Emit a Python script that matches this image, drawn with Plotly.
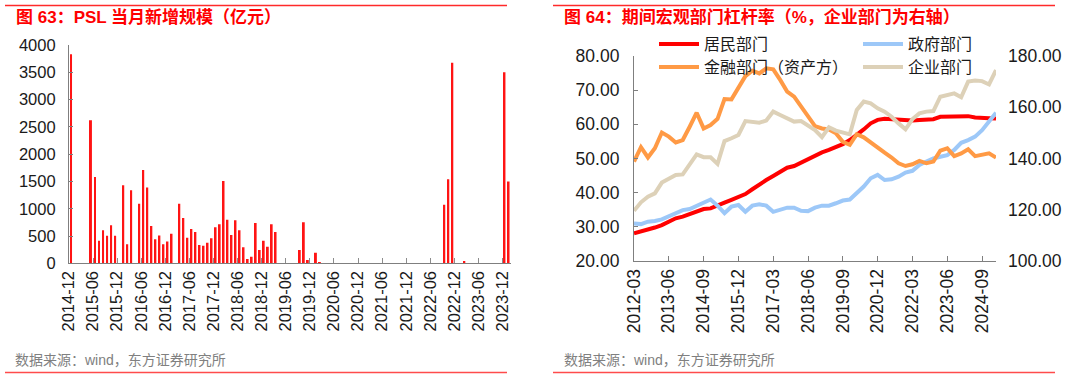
import pandas as pd
import plotly.graph_objects as go

# ---------------- Left panel data: PSL monthly new additions (100m CNY) ----------------
psl_months = pd.date_range("2014-12-01", "2024-01-01", freq="MS").strftime("%Y-%m").tolist()
psl_values = [
    3830, 0, 0, 0, 0, 2620, 1580, 415, 605, 507, 696, 507,        # 2014-12 .. 2015-11
    0, 1430, 350, 1340, 0, 1090, 1710, 1390, 685, 440, 510, 350,   # 2015-12 .. 2016-11
    400, 540, 0, 1090, 830, 470, 630, 575, 335, 320, 375, 460,     # 2016-12 .. 2017-11
    660, 715, 1510, 800, 520, 790, 605, 295, 80, 120, 740, 245,    # 2017-12 .. 2018-11
    415, 305, 715, 575, 0, 0, 0, 0, 0, 245, 750, 60,               # 2018-12 .. 2019-11
    0, 195, 20, 0, 0, 0, 0, 0, 0, 0, 0, 0,                         # 2019-12 .. 2020-11
    0, 0, 0, 0, 0, 0, 0, 0, 0, 0, 0, 0,                            # 2020-12 .. 2021-11
    0, 0, 0, 0, 0, 0, 0, 0, 0, 1075, 1540, 3675,                   # 2021-12 .. 2022-11
    0, 0, 40, 0, 0, 0, 0, 0, 0, 0, 0, 0,                           # 2022-12 .. 2023-11
    3500, 1500,                                                    # 2023-12 .. 2024-01
]
psl_yticks = [0, 500, 1000, 1500, 2000, 2500, 3000, 3500, 4000]

# ---------------- Right panel data: sector leverage ratios (%) ----------------
quarters = pd.period_range("2012Q1", "2025Q1", freq="Q").to_timestamp(how="end").strftime("%Y-%m").tolist()
household = [28.1, 28.6, 29.3, 29.8, 30.5, 31.5, 32.5, 33.0, 33.8, 34.7, 35.2, 35.4, 36.1,
             37.1, 37.9, 38.6, 39.6, 41.0, 42.5, 43.7, 44.9, 46.1, 47.3, 47.8, 48.8, 49.8,
             51.0, 51.8, 52.5, 53.3, 54.2, 55.4, 56.9, 58.5, 60.3, 61.3, 61.6, 61.5, 61.3,
             61.1, 61.1, 61.3, 61.3, 61.5, 62.2, 62.2, 62.2, 62.2, 62.4, 62.0, 62.0, 61.8, 61.7]
government = [31.0, 30.8, 31.5, 31.7, 32.2, 33.2, 34.1, 34.9, 35.2, 36.1, 37.1, 38.0, 36.2,
              34.0, 35.9, 36.4, 34.4, 36.2, 36.6, 36.2, 34.4, 34.9, 35.6, 35.6, 34.7, 34.6,
              35.6, 36.2, 36.2, 36.9, 37.7, 38.0, 39.8, 41.8, 44.2, 45.2, 43.7, 43.9, 44.7,
              45.9, 46.4, 48.1, 49.1, 50.0, 50.5, 51.0, 52.5, 54.6, 55.4, 56.4, 58.3, 60.8, 63.4]
financial = [49.1, 53.3, 50.3, 53.0, 57.6, 56.4, 54.7, 55.4, 59.3, 63.4, 58.8, 59.8, 61.6,
             67.4, 67.3, 70.5, 74.1, 75.7, 74.9, 76.4, 76.1, 73.0, 69.6, 68.1, 65.2, 62.4,
             59.5, 58.8, 58.5, 57.4, 54.9, 54.0, 57.1, 56.2, 54.6, 53.2, 51.7, 50.3, 48.6,
             47.8, 48.3, 49.3, 48.6, 49.1, 52.3, 53.0, 50.7, 51.5, 52.7, 50.7, 51.2, 51.5, 50.3]
corporate = [119.6, 122.9, 125.1, 126.4, 130.6, 132.3, 133.6, 133.8, 137.9, 141.6, 140.5, 140.5, 137.9,
             146.8, 147.9, 149.2, 154.6, 154.4, 154.0, 154.8, 158.3, 157.0, 155.7, 154.4, 154.6, 152.7,
             151.1, 148.3, 152.2, 150.9, 150.1, 149.4, 158.9, 162.2, 161.5, 159.6, 158.3, 156.3, 153.7,
             151.4, 155.4, 157.6, 158.3, 158.5, 164.1, 164.8, 165.4, 163.9, 170.0, 170.4, 170.2, 168.9, 174.5]
lev_xticks = quarters[::5]
left_yticks = [20, 30, 40, 50, 60, 70, 80]
right_yticks = [100, 120, 140, 160, 180]

# ---------------- layout helpers ----------------
W, H = 1080, 381
def px(x):
    return x / W
def py(y):
    return (H - y) / H

FONT = "Liberation Sans, Arial, Noto Sans CJK SC, sans-serif"
CJK = "Liberation Sans, Arial, Noto Sans CJK SC, sans-serif"
TICKFONT_L = dict(family=FONT, size=16.5, color="#1a1a1a")
TICKFONT_R = dict(family=FONT, size=17.5, color="#1a1a1a")
AXCOL = "#7f7f7f"

fig = go.Figure()

# Left bars
fig.add_trace(go.Bar(
    x=psl_months, y=psl_values, xperiod="M1", xperiodalignment="middle",
    marker=dict(color="#ff1414", line=dict(width=0)),
    xaxis="x", yaxis="y", showlegend=False,
))

# Right lines: left-axis series first, corporate (right axis) drawn on top
fig.add_trace(go.Scatter(x=quarters, y=household, mode="lines", name="居民部门",
                         line=dict(color="#ff0000", width=4), xaxis="x2", yaxis="y2",
                         legend="legend"))
fig.add_trace(go.Scatter(x=quarters, y=government, mode="lines", name="政府部门",
                         line=dict(color="#9dc8f8", width=4), xaxis="x2", yaxis="y2",
                         legend="legend2"))
fig.add_trace(go.Scatter(x=quarters, y=financial, mode="lines", name="金融部门（资产方）",
                         line=dict(color="#ff9a45", width=4), xaxis="x2", yaxis="y2",
                         legend="legend3"))
fig.add_trace(go.Scatter(x=quarters, y=corporate, mode="lines", name="企业部门",
                         line=dict(color="#ddd1b8", width=4), xaxis="x2", yaxis="y3",
                         legend="legend4"))

LEG_FONT = dict(family=CJK, size=16, color="#1a1a1a")
def leg(x, y):
    return dict(x=px(x), y=py(y), xanchor="left", yanchor="middle", font=LEG_FONT,
                bgcolor="rgba(0,0,0,0)", itemwidth=40, borderwidth=0)

fig.update_layout(
    width=W, height=H, margin=dict(l=0, r=0, t=0, b=0, pad=0, autoexpand=False),
    paper_bgcolor="white", plot_bgcolor="white",
    bargap=0.5,
    xaxis=dict(
        type="date", domain=[px(69), px(510.6)], anchor="y",
        range=["2014-12-01", "2024-02-01"],
        tick0="2014-12-01", dtick="M6", tickformat="%Y-%m", tickangle=-90,
        ticks="inside", ticklen=5, tickcolor="#8c8c8c", tickwidth=1.2,
        showline=True, linecolor=AXCOL, linewidth=1.2, showgrid=False, zeroline=False,
        tickfont=TICKFONT_L, automargin=False,
    ),
    yaxis=dict(
        domain=[py(263.3), py(45)], anchor="x", range=[0, 4000],
        tickvals=psl_yticks, ticks="inside", ticklen=4, tickcolor=AXCOL,
        showline=True, linecolor=AXCOL, linewidth=1.2, showgrid=False, zeroline=False,
        tickfont=TICKFONT_L, ticklabelstandoff=9, automargin=False,
    ),
    xaxis2=dict(
        type="category", domain=[px(634), px(996)], anchor="y2",
        range=[0, len(quarters) - 1], tickvals=lev_xticks, tickangle=-90,
        ticks="inside", ticklen=5, tickcolor=AXCOL,
        showline=True, linecolor=AXCOL, linewidth=1.2, showgrid=False, zeroline=False,
        tickfont=TICKFONT_R, automargin=False,
    ),
    yaxis2=dict(
        domain=[py(261), py(56)], anchor="x2", side="left", range=[20, 80],
        tickvals=left_yticks, tickformat=".2f", ticks="inside", ticklen=4, tickcolor=AXCOL,
        showline=True, linecolor=AXCOL, linewidth=1.2, showgrid=False, zeroline=False,
        tickfont=TICKFONT_R, ticklabelstandoff=10, automargin=False,
    ),
    yaxis3=dict(
        overlaying="y2", anchor="x2", side="right", range=[100, 180],
        tickvals=right_yticks, tickformat=".2f", ticks="", showline=False,
        showgrid=False, zeroline=False, tickfont=TICKFONT_R, ticklabelstandoff=11,
        automargin=False,
    ),
    legend=leg(654, 44),
    legend2=leg(858, 44),
    legend3=leg(654, 67),
    legend4=leg(858, 67),
)

# Titles, sources and decorative rules
TITLE_FONT = dict(family=CJK, size=17, color="#ff0000")
SRC_FONT = dict(family=CJK, size=14, color="#808080")
fig.add_annotation(x=px(14), y=py(17), xref="paper", yref="paper", xanchor="left", yanchor="middle",
                   text="<b>图 63：PSL 当月新增规模（亿元）</b>", showarrow=False, font=TITLE_FONT)
fig.add_annotation(x=px(562), y=py(17), xref="paper", yref="paper", xanchor="left", yanchor="middle",
                   text="<b>图 64：期间宏观部门杠杆率（%，企业部门为右轴）</b>", showarrow=False, font=TITLE_FONT)
fig.add_annotation(x=px(13), y=py(360), xref="paper", yref="paper", xanchor="left", yanchor="middle",
                   text="数据来源：wind，东方证券研究所", showarrow=False, font=SRC_FONT)
fig.add_annotation(x=px(562), y=py(360), xref="paper", yref="paper", xanchor="left", yanchor="middle",
                   text="数据来源：wind，东方证券研究所", showarrow=False, font=SRC_FONT)

for x0, x1 in [(5, 507), (553, 1055)]:
    fig.add_shape(type="line", xref="paper", yref="paper", x0=px(x0), x1=px(x1), y0=py(5.5), y1=py(5.5),
                  line=dict(color="#ff2a2a", width=1.5))
    fig.add_shape(type="line", xref="paper", yref="paper", x0=px(x0), x1=px(x1), y0=py(372.5), y1=py(372.5),
                  line=dict(color="#ff4b4b", width=1.5))

fig.write_html(
    "out.html",
    config={"displayModeBar": False},
    post_script="document.body.style.margin='0';document.body.style.padding='0';document.body.style.overflow='hidden';",
)
